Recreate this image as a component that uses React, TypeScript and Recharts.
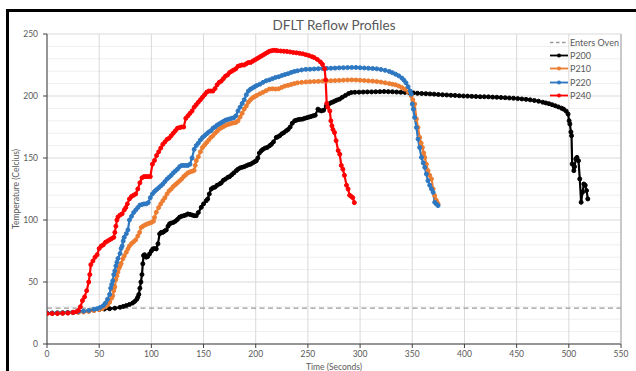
import React from 'react';
import { LineChart, Line, XAxis, YAxis, CartesianGrid } from 'recharts';

const X_TICKS = [0, 50, 100, 150, 200, 250, 300, 350, 400, 450, 500, 550];
const Y_TICKS = [0, 50, 100, 150, 200, 250];
const Y_MINOR = [10, 20, 30, 40, 60, 70, 80, 90, 110, 120, 130, 140, 160, 170, 180, 190, 210, 220, 230, 240];
const Y_MAX = 250;
const ENTERS_OVEN_TEMP = 29;
const ENTERS_OVEN_SPAN = [0, 550];

// [time (s), temperature (C)]
const P200: [number, number][] = [
  [0, 25], [5, 25], [10, 25.1], [15, 25.2], [20, 25.4], [25, 25.6], [30, 26], [35, 26.3], [40, 26.7], [45, 27.2],
  [50, 27.8], [55, 28.2], [60, 28.5], [65, 28.9], [70, 29.6], [73, 30.3], [76, 31], [79, 31.9], [82, 33], [84, 34.3],
  [86, 36], [87, 37.8], [88, 40], [89, 45], [90, 50], [91, 56], [91.8, 64.7], [92.5, 71.3], [93.5, 72], [95, 70],
  [96.5, 70.5], [98.3, 72.7], [100, 75], [101.4, 76.7], [103, 77], [104.7, 76.7], [106.3, 80.8], [107.9, 88.8], [109.5, 90], [111, 90],
  [112.5, 91], [114.3, 92], [116, 95], [117.4, 96.9], [119, 97.5], [121, 98], [123, 99], [125, 100.5], [127, 102.2], [129, 103],
  [131, 103.5], [133, 104], [135, 104.9], [137, 104.5], [139, 104], [141, 103.5], [143, 103.5], [145, 106], [147.8, 110.2], [150, 113],
  [152.6, 115.6], [154, 117], [155.5, 121], [157.4, 125], [159, 126], [161, 126.5], [163, 128], [165.4, 129.1], [167, 130], [169, 132],
  [171, 133], [173.3, 134.4], [175, 135], [177, 136.5], [179, 138], [181.4, 139.8], [183, 141], [185, 142], [187, 142.5], [189, 143],
  [191, 143.8], [193, 144.5], [195, 145], [197, 146], [199, 147], [200.6, 147.8], [202, 150], [203.5, 154], [205.4, 155.9], [207, 157],
  [209, 158], [211, 158.5], [213.3, 159.9], [215, 161], [217, 163], [219.7, 166.6], [221, 167], [223, 168], [225, 169.5], [227, 170.5],
  [229.3, 172], [231, 173], [233, 175], [235, 178], [237.3, 180], [239, 180.5], [241, 181], [243, 181.2], [245, 181.4], [247, 182],
  [249, 182.5], [251, 183], [253, 183.5], [255, 184], [257, 184.5], [259.6, 189.4], [261, 188.5], [263, 188], [265, 188.5], [267.6, 192],
  [270, 193.5], [272, 194.5], [274, 195.2], [276, 196], [278, 196.8], [280.4, 197.5], [283, 199], [286, 200.5], [289, 202], [291.6, 202.8],
  [295, 203], [299, 203.1], [303, 203.2], [307, 203.3], [311, 203.3], [315, 203.4], [319, 203.5], [323, 203.6], [327, 203.5], [331, 203.4],
  [335, 203.2], [339, 203], [343, 202.9], [347, 202.7], [351, 202.5], [355, 202.2], [359, 202], [363, 201.9], [367, 201.7], [371, 201.5],
  [375, 201.2], [379, 201], [383, 200.8], [387, 200.6], [391, 200.5], [395, 200.2], [399, 200], [403, 199.9], [407, 199.7], [411, 199.6],
  [415, 199.4], [419, 199.4], [423, 199.3], [427, 199.1], [431, 199], [435, 198.8], [439, 198.6], [443, 198.4], [447, 198.2], [451, 197.9],
  [455, 197.6], [459, 197.3], [463, 196.9], [467, 196.4], [471, 195.8], [475, 195], [478, 194.4], [481, 193.8], [484, 193], [487, 192.1],
  [490, 191.2], [493, 190.2], [495, 189.4], [497.5, 187.8], [499.3, 185.4], [500.3, 180], [501, 177.4], [502, 171], [502.6, 168], [503.2, 145.2],
  [504.8, 139.8], [505.5, 143], [506.7, 149.2], [507.8, 150.5], [509.3, 147.8], [510.5, 133.1], [511.8, 114.3], [513.1, 122.3], [514.4, 129], [515.7, 128],
  [517, 123.7], [518.2, 117],
];

const P210: [number, number][] = [
  [0, 24.5], [5, 24.5], [10, 24.6], [15, 24.8], [20, 25], [25, 25.2], [30, 25.5], [35, 25.8], [40, 26.3], [45, 27],
  [50, 27.8], [53, 28.5], [56, 30], [58, 31.5], [60, 33.7], [62, 37], [63, 39], [64, 43], [65, 46], [66, 52],
  [67, 55], [68, 58], [69, 61], [70, 63], [71, 65], [72.7, 68.7], [74, 71], [76, 74], [77.5, 76.7], [79, 79],
  [81, 81], [83, 82.5], [85, 84], [87, 87], [88.7, 90], [90.3, 94], [92, 95], [94, 96], [96, 96.8], [98, 97.4],
  [100, 98], [102, 99], [103, 102], [104.7, 106.2], [107, 110], [109, 113], [111, 115.6], [113, 118], [115, 121], [117, 123.5],
  [119, 125], [121, 127], [123, 128.5], [125, 130], [127, 131.5], [129, 133], [131, 135], [133, 136.5], [135, 138], [137, 138.8],
  [139, 139.3], [141, 140], [142, 144], [143, 147.8], [145, 151], [147, 155], [149, 158.5], [151, 160.5], [153, 162.5], [155, 164.5],
  [157, 166.6], [159, 168], [161, 170], [163, 171.5], [165, 173.3], [167, 174.3], [169, 175.3], [171, 176.2], [173, 177], [175, 177.4],
  [177, 178], [179, 178.4], [181, 178.7], [183, 180], [185, 183], [187, 186], [189, 189.5], [191, 192], [193, 195], [195, 197],
  [197, 198.5], [199, 199.5], [201, 200.5], [204, 201.8], [207, 203], [210, 204.3], [213, 205.6], [216, 205.8], [219, 205.6], [222, 205.8],
  [225, 207], [228, 208], [231, 208.6], [234, 209.3], [237, 210], [240, 210.6], [244, 211], [248, 211.3], [252, 211.5], [256, 211.7],
  [260, 211.8], [264, 212], [268, 212.1], [272, 212.3], [276, 212.4], [280, 212.6], [284, 212.8], [288, 212.9], [292, 213], [296, 212.9],
  [300, 212.7], [304, 212.5], [308, 212.2], [312, 212], [316, 211.6], [320, 211.2], [324, 210.6], [328, 210], [331, 209.5], [334, 209],
  [337, 208], [340, 206.8], [343, 205.5], [346, 203.3], [349, 200.2], [350.5, 197], [352.3, 193.5], [354, 181.4], [355.5, 174.6], [357.1, 166.6],
  [358.5, 162], [359.7, 158.5], [361, 154], [362, 150.5], [363.5, 145], [365.1, 139.8], [366.7, 136], [368.4, 133.1], [370, 125], [371.5, 119.6],
  [373, 116], [373.7, 114.3], [374.7, 113],
];

const P220: [number, number][] = [
  [0, 24.8], [5, 24.8], [10, 25], [15, 25], [20, 25.2], [25, 25.5], [30, 26], [35, 26.5], [40, 27], [45, 28],
  [48, 28.5], [51, 29.5], [54, 31], [56, 33], [58, 36], [60, 40], [61, 45], [62, 48], [63, 51], [64, 56],
  [65, 59], [66, 63], [67, 66], [68, 69], [70, 73], [71, 77], [72, 79], [73, 83], [74, 86], [76, 89],
  [77.5, 92], [79, 100], [81, 103], [83, 106], [85, 108], [87, 110], [89, 112], [91, 112.5], [93, 113], [95, 113],
  [97, 114], [99, 118], [101, 121], [103, 123], [105, 124.5], [107, 126], [109, 127.5], [111, 129], [113, 131], [115, 133],
  [117, 134.5], [119, 136], [121, 138], [123, 139.5], [125, 141], [127, 143], [129, 144], [131, 144], [133, 144], [135, 144],
  [137, 145], [139, 150], [141, 157], [143, 160], [145, 162], [147, 164.5], [149, 166.5], [151, 168], [153, 169.5], [155, 171],
  [157, 172], [159, 174], [161, 175], [163, 176.5], [165, 177.5], [167, 178.5], [169, 179.5], [171, 180.5], [173, 181], [175, 181.5],
  [177, 182], [179, 182.5], [181, 184], [183, 188], [185, 191], [187, 194], [189, 197], [191, 201], [193, 204], [195, 205.5],
  [197, 206.5], [199, 207.5], [201, 208.5], [204, 209.5], [207, 211], [210, 212.3], [213, 213], [216, 214], [219, 215], [222, 215.5],
  [225, 216.5], [228, 217.3], [231, 218], [234, 219], [237, 219.8], [240, 220.3], [244, 221], [248, 221.5], [252, 221.6], [256, 221.8],
  [260, 222], [264, 222.2], [268, 222.3], [272, 222.4], [276, 222.5], [280, 222.7], [284, 222.8], [288, 222.9], [292, 223], [296, 223],
  [300, 222.8], [304, 222.6], [308, 222.4], [312, 222.2], [316, 221.9], [320, 221.4], [324, 220.7], [328, 219.8], [331, 218.8], [334, 217.6],
  [337, 216.3], [340, 214.5], [342, 212.8], [344, 210.6], [346, 207.5], [348, 204], [349, 201.5], [350, 193.5], [351, 189.4], [352.3, 182.7],
  [354, 174.6], [355.5, 165.3], [357, 158.5], [358.8, 150.5], [360.5, 146], [362, 142.4], [363.5, 137.1], [365, 131.7], [366.7, 128], [368.4, 125],
  [370, 122.3], [371.5, 114.3], [373, 113], [374.7, 111.6],
];

const P240: [number, number][] = [
  [0, 24.5], [5, 24.5], [10, 24.6], [15, 24.8], [20, 25], [25, 25.5], [28, 26], [30, 27], [32, 30], [34, 35],
  [36, 38], [38, 43], [40, 50], [41, 56], [42, 64], [44, 67], [46, 70], [48, 72], [50, 77], [52, 79],
  [54, 80], [56, 82], [58, 83], [60, 84], [62, 85], [64, 86], [65, 90], [66, 95], [67, 100], [68, 102.5],
  [70, 104], [72, 105], [74, 108], [75.5, 110], [77, 113], [79, 117], [81, 119], [83, 120], [85, 121], [87, 125],
  [89, 130], [91, 134], [93, 135], [95, 135], [97, 135], [99, 135], [101, 145], [103, 148], [105, 152], [107, 155],
  [109, 158], [111, 161], [113, 163], [115, 165], [117, 166], [119, 168], [121, 170], [123, 172], [125, 174], [127, 174.5],
  [129, 175], [131, 175], [133, 182], [135, 184], [137, 186], [139, 188], [141, 191], [143, 193], [145, 195], [147, 197],
  [149, 199], [151, 201], [153, 203], [155, 204], [157, 204], [159, 204], [161, 206], [163, 209], [165, 211], [167, 212],
  [169, 214], [171, 216], [173, 217], [175, 219], [177, 220], [179, 221], [181, 222], [183, 224], [185, 224.5], [187, 225],
  [189, 225], [191, 226], [193, 227], [195, 227], [197, 228], [199, 229], [201, 230], [203, 231], [205, 232], [207, 233],
  [209, 234], [211, 235], [213, 236], [215, 236.5], [217, 236.8], [219, 236.8], [221, 236.5], [224, 236.3], [227, 236.1], [230, 235.9],
  [233, 235.5], [236, 235.1], [239, 234.8], [242, 234.4], [245, 234], [248, 233.3], [251, 232.6], [254, 231.7], [256, 231], [259, 229.5],
  [262, 227.5], [264, 225.5], [266, 222], [267, 213], [268, 194], [269, 191], [271, 188], [272, 180], [273, 176], [274, 173],
  [275.5, 170.5], [277, 164], [279, 156], [280.5, 153], [282, 144], [283.5, 141], [285, 136], [287, 128], [288.5, 125], [290, 120],
  [291.5, 119], [293, 118], [294.5, 114],
];

const SERIES = [
  { name: 'P200', color: '#000000', data: P200 },
  { name: 'P210', color: '#ED7D31', data: P210 },
  { name: 'P220', color: '#2E78C2', data: P220 },
  { name: 'P240', color: '#FF0000', data: P240 },
];

const OVEN = { name: 'Enters Oven', color: '#9a9a9a' };

const FONT = 'Lato, "Open Sans", sans-serif';
const TEXT = '#595959';

const W = 636;
const H = 371;
const MARGIN = { top: 34, right: 15, bottom: 0, left: 0 };
const YAXIS_W = 47;
const XAXIS_H = 27;

const toRows = (pts: [number, number][]) => pts.map(([t, v]) => ({ t, v }));

export default function App() {
  const ovenData = ENTERS_OVEN_SPAN.map((t) => ({ t, v: ENTERS_OVEN_TEMP }));
  const plotLeft = MARGIN.left + YAXIS_W;
  const plotRight = W - MARGIN.right;
  const plotTop = MARGIN.top;
  const plotBottom = H - MARGIN.bottom - XAXIS_H;
  const legendItems = [{ ...OVEN, dashed: true }, ...SERIES.map((s) => ({ name: s.name, color: s.color, dashed: false }))];

  return (
    <div style={{ position: 'absolute', left: 0, top: 0, width: W, height: H, overflow: 'hidden', background: '#fff' }}>
      <div style={{ position: 'absolute', left: 6, top: 9, width: 700, height: 400, border: '3px solid #000', boxSizing: 'border-box' }} />
      <div style={{ position: 'absolute', left: 0, top: 0 }}>
        <LineChart width={W} height={H} margin={MARGIN}>
          <CartesianGrid
            vertical={false}
            stroke="#efefef"
            horizontalCoordinatesGenerator={(props: any) => {
              const top = props?.offset?.top ?? plotTop;
              const h = props?.offset?.height ?? plotBottom - plotTop;
              return Y_MINOR.map((v) => top + h * (1 - v / Y_MAX));
            }}
          />
          <CartesianGrid stroke="#d9d9d9" />
          <XAxis
            type="number"
            dataKey="t"
            domain={[0, 550]}
            ticks={X_TICKS}
            allowDataOverflow
            height={XAXIS_H}
            tickSize={4}
            tickMargin={3}
            stroke="#404040"
            tick={{ fill: TEXT, fontSize: 8.5, fontFamily: FONT }}
          />
          <YAxis
            type="number"
            dataKey="v"
            domain={[0, Y_MAX]}
            ticks={Y_TICKS}
            allowDataOverflow
            width={YAXIS_W}
            tickSize={4}
            tickMargin={5}
            stroke="#404040"
            tick={{ fill: TEXT, fontSize: 8.5, fontFamily: FONT }}
          />
          <Line
            data={ovenData}
            dataKey="v"
            name={OVEN.name}
            stroke={OVEN.color}
            strokeWidth={1.3}
            strokeDasharray="5 3.5"
            dot={false}
            isAnimationActive={false}
          />
          {SERIES.map((s) => (
            <Line
              key={s.name}
              data={toRows(s.data)}
              dataKey="v"
              name={s.name}
              stroke={s.color}
              strokeWidth={2.2}
              dot={{ r: 2, fill: s.color, stroke: s.color, strokeWidth: 1 }}
              activeDot={false}
              isAnimationActive={false}
            />
          ))}
        </LineChart>
      </div>
      <svg width={W} height={H} style={{ position: 'absolute', left: 0, top: 0, pointerEvents: 'none' }}>
        <line x1={plotRight} x2={plotRight} y1={plotTop} y2={plotBottom} stroke="#a6a6a6" strokeWidth={1} />
        <text x={(plotLeft + plotRight) / 2} y={29.5} textAnchor="middle" fill={TEXT} fontSize={13.5} fontFamily={FONT}>
          DFLT Reflow Profiles
        </text>
        <text x={(plotLeft + plotRight) / 2} y={369.5} textAnchor="middle" fill={TEXT} fontSize={8.5} fontFamily={FONT}>
          Time (Seconds)
        </text>
        <text
          x={0}
          y={0}
          transform={`translate(19, ${(plotTop + plotBottom) / 2}) rotate(-90)`}
          textAnchor="middle"
          fill={TEXT}
          fontSize={8.5}
          fontFamily={FONT}
        >
          Temperature (Celcius)
        </text>
      </svg>
      <div style={{ position: 'absolute', left: 549, top: 35.5, fontFamily: FONT, fontSize: 9, color: TEXT }}>
        {legendItems.map((it) => (
          <div key={it.name} style={{ height: 13.4, display: 'flex', alignItems: 'center', whiteSpace: 'nowrap' }}>
            <svg width={20} height={13} style={{ display: 'block' }}>
              <line
                x1={1}
                x2={19}
                y1={6.5}
                y2={6.5}
                stroke={it.color}
                strokeWidth={it.dashed ? 1.3 : 1.8}
                strokeDasharray={it.dashed ? '3.5 2.5' : undefined}
              />
              {!it.dashed && <circle cx={10} cy={6.5} r={2} fill={it.color} />}
            </svg>
            <span style={{ marginLeft: 1 }}>{it.name}</span>
          </div>
        ))}
      </div>
    </div>
  );
}
